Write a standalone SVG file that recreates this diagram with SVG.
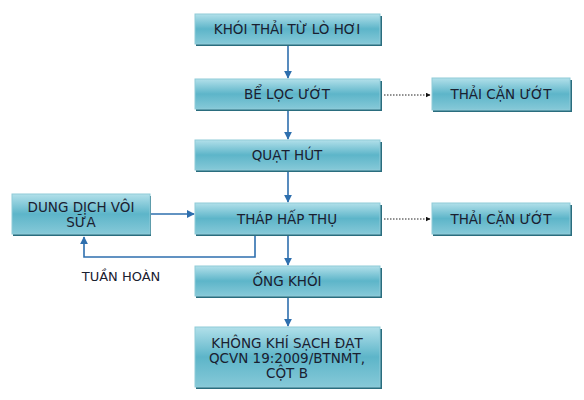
<svg xmlns="http://www.w3.org/2000/svg" width="584" height="400" viewBox="0 0 584 400">
<defs>
<linearGradient id="g" x1="0" y1="0" x2="0" y2="1">
<stop offset="0" stop-color="#b2e0ea"/>
<stop offset="0.5" stop-color="#5db5c9"/>
<stop offset="1" stop-color="#86c9d8"/>
</linearGradient>
<marker id="ab" viewBox="0 0 10 10" refX="9" refY="5" markerWidth="5" markerHeight="5" orient="auto"><path d="M0,0 L10,5 L0,10 z" fill="#2e6fae"/></marker>
<marker id="ak" viewBox="0 0 10 10" refX="9" refY="5" markerWidth="5" markerHeight="5" orient="auto"><path d="M0,0 L10,5 L0,10 z" fill="#111"/></marker>
</defs>
<style>
.b{fill:url(#g);stroke:#8fcbd8;stroke-width:1}
.s{fill:#2a6d7e}
text{font-family:"DejaVu Sans",Verdana,sans-serif;font-size:13.5px;fill:#1a2030;text-anchor:middle}
.c{fill:none;stroke:#2e6fae;stroke-width:1.6}
.d{fill:none;stroke:#222;stroke-width:1;stroke-dasharray:1.5 1.5}
</style>
<rect width="584" height="400" fill="#fff"/>
<g id="n1"><rect class="s" x="196" y="16" width="186" height="30"/><rect class="b" x="195" y="14" width="185" height="30"/><text x="287" y="34">KHÓI THẢI TỪ LÒ HƠI</text></g>
<g id="n2"><rect class="s" x="196" y="81" width="186" height="30"/><rect class="b" x="195" y="79" width="185" height="30"/><text x="287" y="99">BỂ LỌC ƯỚT</text></g>
<g id="n3"><rect class="s" x="196" y="142" width="186" height="30"/><rect class="b" x="195" y="140" width="185" height="30"/><text x="287" y="160">QUẠT HÚT</text></g>
<g id="n4"><rect class="s" x="196" y="205" width="186" height="31"/><rect class="b" x="195" y="203" width="185" height="31"/><text x="287" y="223.5">THÁP HẤP THỤ</text></g>
<g id="n5"><rect class="s" x="196" y="268" width="186" height="30"/><rect class="b" x="195" y="266" width="185" height="30"/><text x="287" y="286">ỐNG KHÓI</text></g>
<g id="n6"><rect class="s" x="196" y="329" width="186" height="60"/><rect class="b" x="195" y="327" width="185" height="60"/><text x="287" y="347.5">KHÔNG KHÍ SẠCH ĐẠT</text><text x="287" y="362.5">QCVN 19:2009/BTNMT,</text><text x="287" y="377.5">CỘT B</text></g>
<g id="n7"><rect class="s" x="13" y="196" width="138" height="40"/><rect class="b" x="12" y="194" width="138" height="40"/><text x="81" y="212">DUNG DỊCH VÔI</text><text x="81" y="226.5">SỮA</text></g>
<g id="n8"><rect class="s" x="433" y="80" width="139" height="32"/><rect class="b" x="432" y="78" width="138" height="32"/><text x="501" y="98.5">THẢI CẶN ƯỚT</text></g>
<g id="n9"><rect class="s" x="433" y="205" width="139" height="31"/><rect class="b" x="432" y="203" width="138" height="31"/><text x="501" y="223.5">THẢI CẶN ƯỚT</text></g>
<g id="connectors">
<line class="c" x1="288" y1="46" x2="288" y2="78" marker-end="url(#ab)"/>
<line class="c" x1="288" y1="111" x2="288" y2="139" marker-end="url(#ab)"/>
<line class="c" x1="288" y1="172" x2="288" y2="202" marker-end="url(#ab)"/>
<line class="c" x1="288" y1="236" x2="288" y2="265" marker-end="url(#ab)"/>
<line class="c" x1="288" y1="298" x2="288" y2="326" marker-end="url(#ab)"/>
<line class="c" x1="151" y1="214" x2="194" y2="214" marker-end="url(#ab)"/>
<polyline class="c" points="255,236 255,257 84,257 84,237" marker-end="url(#ab)"/>
<line class="d" x1="384" y1="95" x2="430" y2="95" marker-end="url(#ak)"/>
<line class="d" x1="384" y1="219" x2="430" y2="219" marker-end="url(#ak)"/>
</g>
<text x="121" y="281" style="font-size:13px">TUẦN HOÀN</text>
</svg>
